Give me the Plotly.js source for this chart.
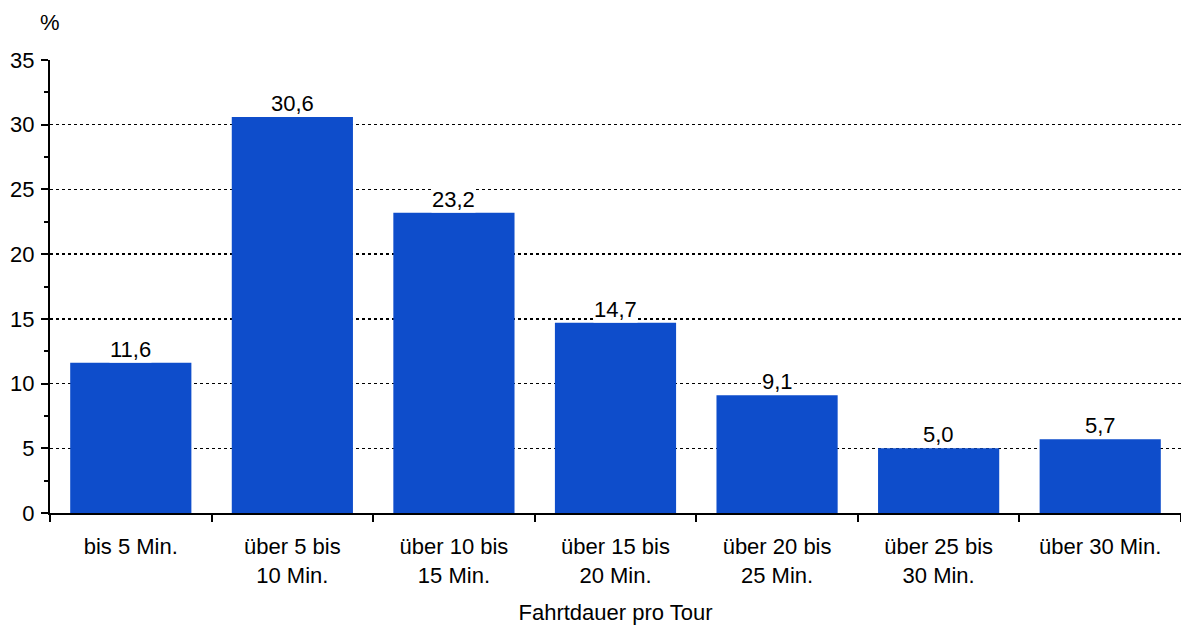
<!DOCTYPE html>
<html><head><meta charset="utf-8">
<script src="https://cdn.plot.ly/plotly-3.0.1.min.js"></script>
<style>html,body{margin:0;padding:0;background:#fff}</style>
</head><body><div id="chart" style="width:1181px;height:625px"></div>
<script>
const categories = ["bis 5 Min.", "über 5 bis<br>10 Min.", "über 10 bis<br>15 Min.", "über 15 bis<br>20 Min.", "über 20 bis<br>25 Min.", "über 25 bis<br>30 Min.", "über 30 Min."];
const values = [11.6, 30.6, 23.2, 14.7, 9.1, 5.0, 5.7];
const yTicks = [0, 5, 10, 15, 20, 25, 30, 35];

const font = {family: "Liberation Sans, Arial, sans-serif", size: 22, color: "#000"};
const annotations = categories.map((c, i) => ({
  x: c, y: values[i], xref: "x", yref: "y",
  text: values[i].toFixed(1).replace(".", ","),
  showarrow: false, yanchor: "bottom", yshift: 0,
  bgcolor: "#fff", borderpad: 0, font: font
}));
annotations.push({x: 0, y: 1, xref: "paper", yref: "paper", xanchor: "center", yanchor: "middle",
  yshift: 38, text: "%", showarrow: false, font: font});

Plotly.newPlot("chart", [{
  type: "bar", x: categories, y: values,
  marker: {color: "#0E4DCB", line: {width: 0}},
  hoverinfo: "skip"
}], {
  width: 1181, height: 625,
  margin: {l: 50, r: 0, t: 60, b: 112},
  paper_bgcolor: "#fff", plot_bgcolor: "#fff",
  font: font, showlegend: false, bargap: 0.25,
  xaxis: {
    type: "category", tickson: "boundaries", ticks: "outside", ticklen: 7, tickwidth: 2, tickcolor: "#000",
    showline: true, linecolor: "#000", linewidth: 2, showgrid: false,
    tickfont: font, ticklabelstandoff: 13,
    title: {text: "Fahrtdauer pro Tour", font: font, standoff: 18}
  },
  yaxis: {
    range: [0, 35], tickvals: yTicks, ticktext: yTicks.map(String),
    ticks: "outside", ticklen: 7, tickwidth: 2, tickcolor: "#000",
    showline: true, linecolor: "#000", linewidth: 2,
    showgrid: true, gridcolor: "#000", gridwidth: 1.5, griddash: "dot",
    zeroline: false, tickfont: font, ticklabelstandoff: 2,
    minor: {dtick: 2.5, tick0: 0, ticks: "outside", ticklen: 4, tickwidth: 2, tickcolor: "#000", showgrid: false}
  },
  annotations: annotations
}, {staticPlot: true});
</script></body></html>
